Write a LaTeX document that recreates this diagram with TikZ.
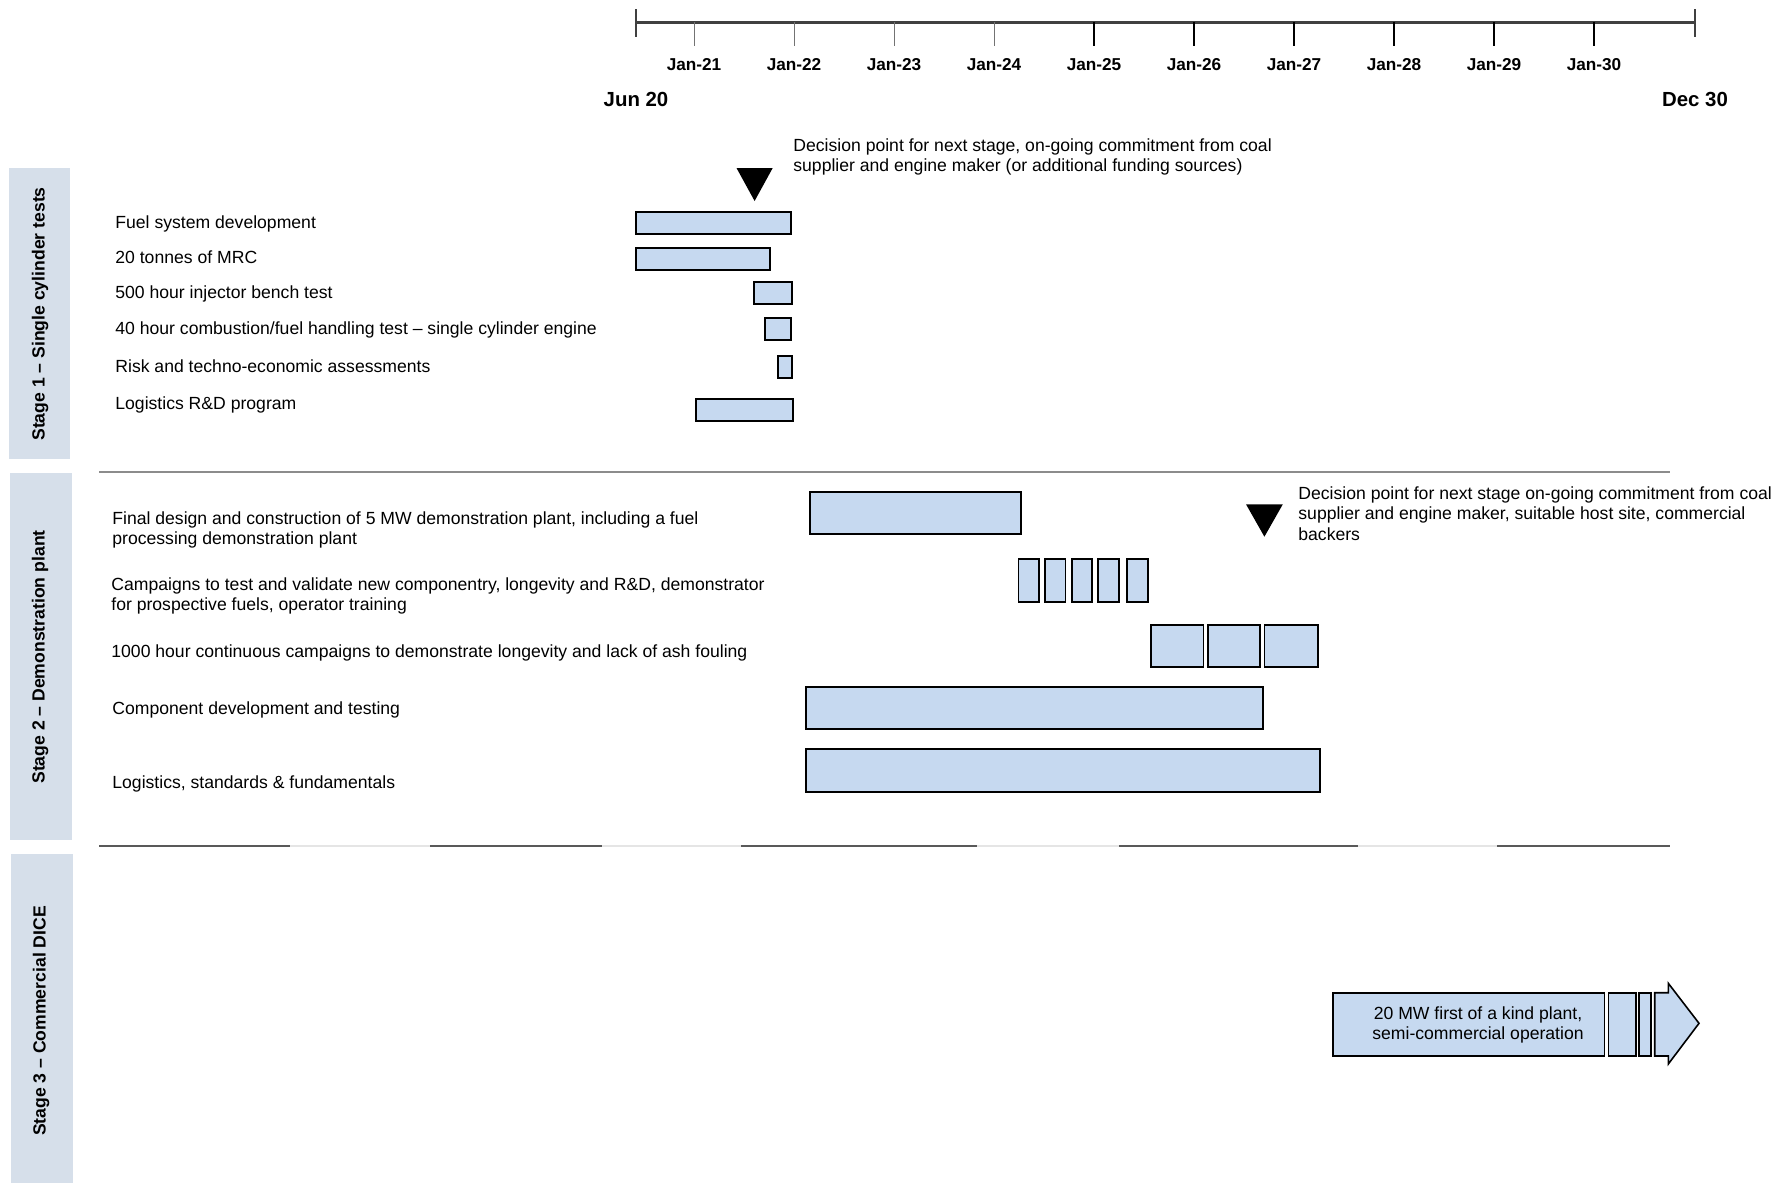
\documentclass[tikz,border=0pt]{standalone}
\usepackage{fontspec}
\setmainfont{Liberation Sans}
\usepackage{tikz}
\definecolor{barblue}{RGB}{198,217,240}
\definecolor{stagegrey}{RGB}{214,223,234}
\definecolor{axisgrey}{RGB}{64,64,64}

\tikzset{
  bar/.style={fill=barblue, draw=black, line width=0.9pt},
  stagelabel/.style={rotate=90, font=\fontsize{8.8}{10}\selectfont\bfseries},
  task/.style={anchor=north west, inner sep=0pt, align=left},
  yearlabel/.style={font=\fontsize{8.6}{10}\selectfont\bfseries},
  endlabel/.style={font=\fontsize{10.2}{12}\selectfont\bfseries}
}

\begin{document}
\begin{tikzpicture}[x=0.5pt, y=-0.5pt, font=\fontsize{8.8}{10.3}\selectfont]
  \useasboundingbox (0,0) rectangle (1782,1183);

  % Time axis
  \draw[axisgrey, line width=1.5pt] (636,22) -- (1695,22);
  \draw[axisgrey, line width=1pt] (636,9) -- (636,37);
  \draw[axisgrey, line width=1pt] (1695,9) -- (1695,37);
  \foreach \yr in {21,...,24}
    \draw[black!55, line width=0.5pt] ({694+(\yr-21)*100},22) -- ({694+(\yr-21)*100},46);
  \foreach \yr in {25,...,30}
    \draw[black, line width=1pt] ({694+(\yr-21)*100},22) -- ({694+(\yr-21)*100},46);
  \foreach \yr in {21,...,30}{
    \pgfmathsetmacro\xpos{694+(\yr-21)*100}
    \node[yearlabel] (jan\yr) at (\xpos,64.5) {Jan-\yr};
  }
  \node[endlabel] (start) at (636,99) {Jun 20};
  \node[endlabel] (finish) at (1695,99) {Dec 30};

  % Stage bands
  \fill[stagegrey] (9,168) rectangle (70,459);
  \fill[stagegrey] (10,473) rectangle (72,840);
  \fill[stagegrey] (11,854) rectangle (73,1183);
  \node[stagelabel] (stage1) at (40,314) {Stage 1 – Single cylinder tests};
  \node[stagelabel] (stage2) at (40,657) {Stage 2 – Demonstration plant};
  \node[stagelabel] (stage3) at (41,1021) {Stage 3 – Commercial DICE};

  % Separators
  \draw[black!45, line width=0.8pt] (99,472) -- (1670,472);
  \draw[black!10, line width=0.8pt] (99,846) -- (1670,846);
  \foreach \a/\b in {99/290, 430/602, 741/977, 1119/1358, 1497/1670}
    \draw[black!65, line width=0.8pt] (\a,846) -- (\b,846);

  % Stage 1 tasks
  \foreach \i/\ty/\by/\xa/\xb/\txt in {
    1/215/223/636/791/{Fuel system development},
    2/250.5/259/636/770/{20 tonnes of MRC},
    3/285.5/293/754/792/{500 hour injector bench test},
    4/321/329/765/791/{40 hour combustion/fuel handling test – single cylinder engine},
    5/359/367/778/792/{Risk and techno-economic assessments},
    6/396/410/696/793/{Logistics R\&D program}
  }{
    \node[task] (one\i) at (115,\ty) {\txt};
    \draw[bar] (\xa,\by-11) rectangle (\xb,\by+11);
  }
  \fill (736.5,168) -- (772.7,168) -- (754.6,201) -- cycle;
  \node[task] (decision1) at (793,138) {Decision point for next stage, on-going commitment from coal\\supplier and engine maker (or additional funding sources)};

  % Stage 2 tasks
  \node[task] (two1) at (112,511) {Final design and construction of 5 MW demonstration plant, including a fuel\\processing demonstration plant};
  \node[task] (two2) at (111,577) {Campaigns to test and validate new componentry, longevity and R\&D, demonstrator\\for prospective fuels, operator training};
  \node[task] (two3) at (111,644.5) {1000 hour continuous campaigns to demonstrate longevity and lack of ash fouling};
  \node[task] (two4) at (112,701) {Component development and testing};
  \node[task] (two5) at (112,775) {Logistics, standards \& fundamentals};

  \draw[bar] (810,492.3) rectangle (1021,534.3);
  \foreach \xa/\xb in {1018.4/1038.8, 1045/1065.4, 1071.6/1092, 1098.2/1118.6, 1127.3/1147.8}
    \draw[bar] (\xa,559.3) rectangle (\xb,602.3);
  \foreach \xa/\xb in {1150.8/1203.5, 1207.6/1260.3, 1264.4/1317.6}
    \draw[bar] (\xa,624.7) rectangle (\xb,667.3);
  \draw[bar] (806,686.7) rectangle (1262.9,728.7);
  \draw[bar] (806,748.7) rectangle (1320.2,791.7);

  \fill (1246,504.3) -- (1282.8,504.3) -- (1264.4,536.7) -- cycle;
  \node[task] (decision2) at (1298,486) {Decision point for next stage on-going commitment from coal\\supplier and engine maker, suitable host site, commercial\\backers};

  % Stage 3
  \draw[bar, line width=0.8pt] (1333,992.7) rectangle (1604.3,1056);
  \draw[bar, line width=0.8pt] (1608.3,992.7) rectangle (1635.7,1056);
  \draw[bar, line width=0.8pt] (1639,992.7) rectangle (1650.7,1056);
  \draw[bar, line width=0.8pt] (1654.7,992.7) -- (1668.3,992.7) -- (1668.3,983.3)
    -- (1699,1023.3) -- (1668.3,1064) -- (1668.3,1056) -- (1654.7,1056) -- cycle;
  \node[align=center, inner sep=0pt] (foak) at (1478,1025) {20 MW first of a kind plant,\\semi-commercial operation};
\end{tikzpicture}
\end{document}
